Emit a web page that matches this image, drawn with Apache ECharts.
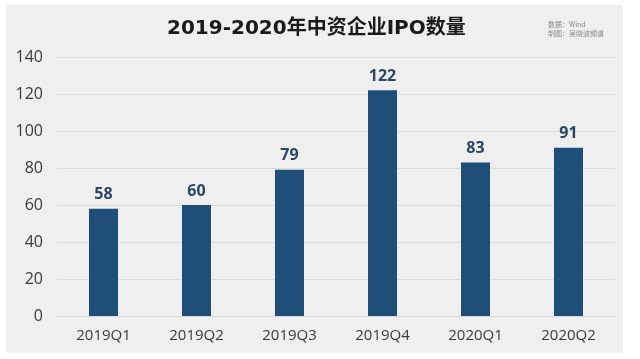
<!DOCTYPE html>
<html><head><meta charset="utf-8">
<script src="https://cdn.jsdelivr.net/npm/echarts@6/dist/echarts.min.js"></script>
<style>html,body{margin:0;padding:0;background:#fff}#c{width:640px;height:359px}</style>
</head><body><div id="c"></div>
<script>
const categories = ['2019Q1','2019Q2','2019Q3','2019Q4','2020Q1','2020Q2'];
const values = [58, 60, 79, 122, 83, 91];
const chart = echarts.init(document.getElementById('c'));
chart.setOption({
  backgroundColor: '#ffffff',
  graphic: [
    {type:'rect', shape:{x:6,y:5,width:617,height:348}, style:{fill:'#efefef'}, z:-10},
    {type:'text', left:167, top:19, style:{text:'2019-2020年中资企业IPO数量', font:'bold 20px "DejaVu Sans", "Noto Sans CJK SC", sans-serif', fill:'#1a1a1a'}},
    {type:'text', left:548, top:20, style:{text:'数据：Wind\n制图：吴晓波频道', font:'7px "Noto Sans CJK SC", sans-serif', fill:'#8a8a8a', lineHeight:9}}
  ],
  grid: {left:57, right:25, top:57, bottom:43},
  xAxis: {
    type:'category', data: categories,
    axisLine:{show:true, lineStyle:{color:'#d8d8d8'}}, axisTick:{show:false},
    axisLabel:{color:'#3a3a3a', fontSize:15, margin:12, fontFamily:'"Open Sans", sans-serif'}
  },
  yAxis: {
    type:'value', min:0, max:140, interval:20,
    axisLine:{show:false}, axisTick:{show:false},
    splitLine:{lineStyle:{color:'#dcdcdc'}},
    axisLabel:{color:'#3a3a3a', fontSize:16, margin:14, fontFamily:'"Open Sans", sans-serif'}
  },
  series: [{
    type:'bar', data: values, barWidth:29,
    itemStyle:{color:'#1f4e79'},
    label:{show:true, position:'top', distance:6, color:'#2b4766', fontSize:16, fontWeight:'bold', fontFamily:'"Open Sans", sans-serif'}
  }]
});
</script></body></html>
